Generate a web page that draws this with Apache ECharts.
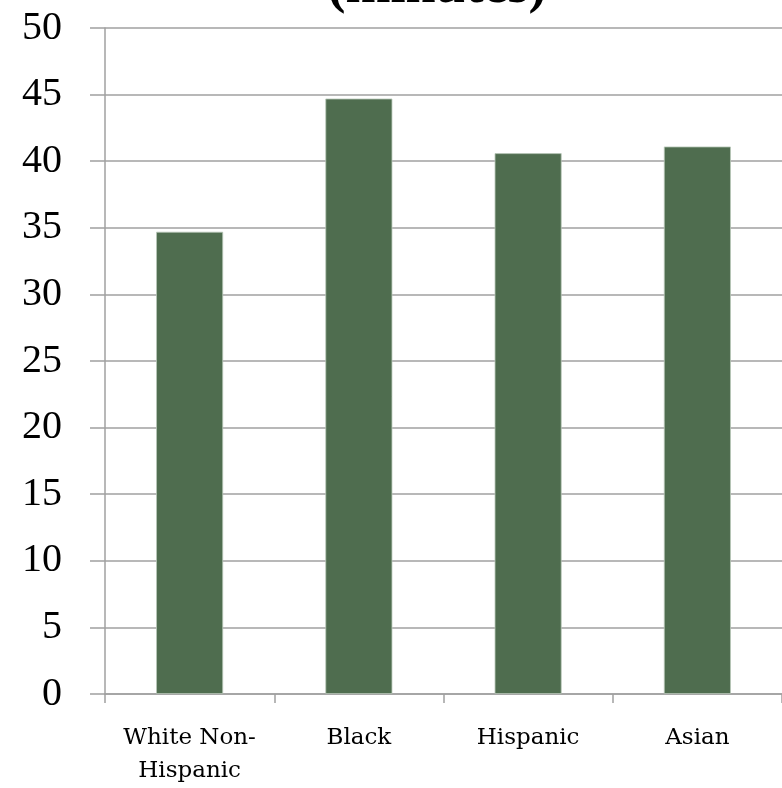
<!DOCTYPE html>
<html lang="en">
<head>
    <meta charset="UTF-8">
    <title>Commute time (minutes)</title>
    <script src="https://cdn.jsdelivr.net/npm/echarts@6.0.0/dist/echarts.min.js"></script>
    <style>
        html, body { margin: 0; padding: 0; background: #ffffff; }
        #chart { width: 782px; height: 788px; }
    </style>
</head>
<body>
    <div id="chart"></div>
    <script type="text/javascript">
    // data
    var categories = ['White Non-\nHispanic', 'Black', 'Hispanic', 'Asian'];
    var minutes = [34.7, 44.7, 40.6, 41.1];
    var titleText = '(minutes)';

    var chart = echarts.init(document.getElementById('chart'));

    var option = {
        animation: false,
        title: {
            text: titleText,
            left: 432,
            textAlign: 'center',
            top: -44,
            textStyle: {
                fontFamily: 'Liberation Serif',
                fontWeight: 'bold',
                fontSize: 54,
                color: '#000'
            }
        },
        grid: {
            left: 105,
            right: 0,
            top: 28,
            bottom: 88
        },
        xAxis: {
            type: 'category',
            data: categories,
            axisLine: { lineStyle: { color: '#a0a0a0', width: 1.5 } },
            axisTick: { show: true, interval: 0, length: 9, lineStyle: { color: '#a0a0a0', width: 1.5 } },
            axisLabel: {
                interval: 0, // keep all four labels, they touch at 23px
                margin: 28,
                fontFamily: 'DejaVu Serif',
                fontSize: 23,
                lineHeight: 33,
                color: '#000'
            }
        },
        yAxis: {
            type: 'value',
            min: 0,
            max: 50,
            interval: 5,
            axisLine: { show: true, lineStyle: { color: '#a0a0a0', width: 1.5 } },
            axisTick: { show: true, length: 15, lineStyle: { color: '#a0a0a0', width: 1.5 } },
            splitLine: { lineStyle: { color: '#a0a0a0', width: 1.5 } },
            axisLabel: {
                margin: 43,
                fontFamily: 'Liberation Serif',
                fontSize: 40,
                color: '#000'
            }
        },
        series: [
            {
                name: 'minutes',
                type: 'bar',
                data: minutes,
                barWidth: 67,
                itemStyle: {
                    color: '#4f6d4f',
                    borderColor: '#b9c8b9',
                    borderWidth: 0.8
                }
            }
        ]
    };
    chart.setOption(option);
    </script>
</body>
</html>
